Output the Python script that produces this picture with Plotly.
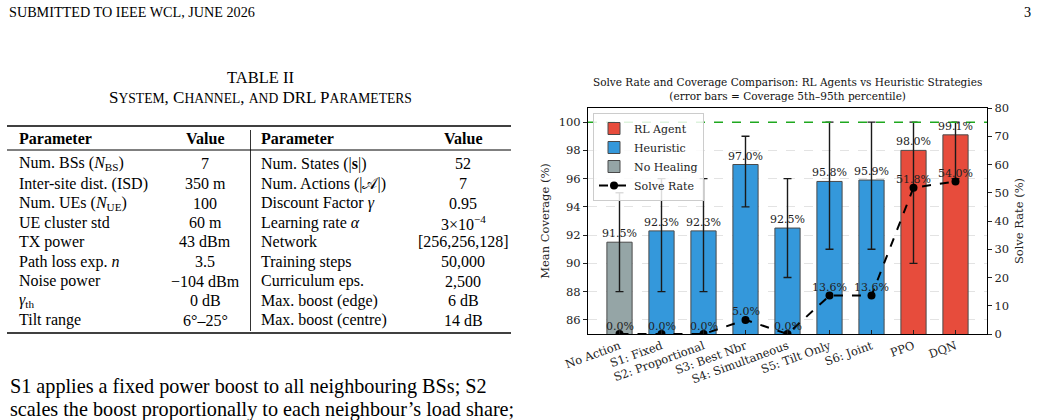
import plotly.graph_objects as go

W, H = 1041, 420

# ---------------- data ----------------
categories = ["No Action", "S1: Fixed", "S2: Proportional", "S3: Best Nbr",
              "S4: Simultaneous", "S5: Tilt Only", "S6: Joint", "PPO", "DQN"]
groups = ["No Healing", "Heuristic", "Heuristic", "Heuristic", "Heuristic",
          "Heuristic", "Heuristic", "RL Agent", "RL Agent"]
mean_coverage = [91.5, 92.3, 92.3, 97.0, 92.5, 95.8, 95.9, 98.0, 99.1]
coverage_p5 = [88.0, 88.0, 88.0, 94.0, 89.0, 91.0, 91.0, 90.0, 96.0]
coverage_p95 = [95.0, 96.0, 96.0, 99.0, 96.0, 100.0, 100.0, 100.0, 100.0]
solve_rate = [0.0, 0.0, 0.0, 5.0, 0.0, 13.6, 13.6, 51.8, 54.0]
target_coverage = 100.0
cov_ticks = [86, 88, 90, 92, 94, 96, 98, 100]
solve_ticks = [0, 10, 20, 30, 40, 50, 60, 70, 80]

group_order = ["RL Agent", "Heuristic", "No Healing"]
group_colors = {"RL Agent": "#e74c3c", "Heuristic": "#3498db", "No Healing": "#95a5a6"}

table_left_params = ["Num. BSs (<i>N</i><sub>BS</sub>)", "Inter-site dist. (ISD)",
                     "Num. UEs (<i>N</i><sub>UE</sub>)", "UE cluster std", "TX power",
                     "Path loss exp. <i>n</i>", "Noise power", "<i>γ</i><sub>th</sub>", "Tilt range"]
table_left_values = ["7", "350 m", "100", "60 m", "43 dBm", "3.5", "−104 dBm", "0 dB", "6°–25°"]
table_right_params = ["Num. States (|<b>s</b>|)", "Num. Actions (|𝒜|)", "Discount Factor <i>γ</i>",
                      "Learning rate <i>α</i>", "Network", "Training steps", "Curriculum eps.",
                      "Max. boost (edge)", "Max. boost (centre)"]
table_right_values = ["52", "7", "0.95", "3×10<sup>−4</sup>", "[256,256,128]", "50,000",
                      "2,500", "6 dB", "14 dB"]

# ---------------- helpers ----------------
def px(x):
    return x / W

def py(y):
    return 1 - y / H

SERIF_PAGE = "Liberation Serif"
SERIF_PLOT = "DejaVu Serif"

fig = go.Figure()

xs = list(range(len(categories)))

for g in group_order:
    idx = [i for i in xs if groups[i] == g]
    fig.add_trace(go.Bar(
        x=[xs[i] for i in idx],
        y=[mean_coverage[i] for i in idx],
        width=0.6,
        name=g,
        marker=dict(color=group_colors[g], line=dict(color="#4a4a4a", width=1)),
        error_y=dict(type="data", symmetric=False,
                     array=[coverage_p95[i] - mean_coverage[i] for i in idx],
                     arrayminus=[mean_coverage[i] - coverage_p5[i] for i in idx],
                     color="#1a1a1a", thickness=1.4, width=4),
        xaxis="x", yaxis="y",
    ))

fig.add_trace(go.Scatter(
    x=xs, y=solve_rate, name="Solve Rate", mode="lines+markers",
    line=dict(color="black", width=2, dash="dash"),
    marker=dict(color="black", size=8),
    xaxis="x", yaxis="y2",
))

annotations = []
for i in xs:
    annotations.append(dict(x=i, y=mean_coverage[i], xref="x", yref="y",
                            text=f"{mean_coverage[i]:.1f}%", showarrow=False,
                            xanchor="center", yanchor="bottom",
                            font=dict(family=SERIF_PLOT, size=11, color="#222")))
    annotations.append(dict(x=i, y=solve_rate[i], xref="x", yref="y2",
                            text=f"{solve_rate[i]:.1f}%", showarrow=False,
                            xanchor="center", yanchor="middle", yshift=8,
                            font=dict(family=SERIF_PLOT, size=11, color="#222")))

# chart title
annotations.append(dict(x=px(787.5), y=py(88.5), xref="paper", yref="paper",
                        text="Solve Rate and Coverage Comparison: RL Agents vs Heuristic Strategies<br>"
                             "(error bars = Coverage 5th–95th percentile)",
                        showarrow=False, xanchor="center", yanchor="middle", align="center",
                        font=dict(family=SERIF_PLOT, size=10.5, color="#111")))

# ---------------- page texts ----------------
def page_text(x, y, text, size, anchor="left", family=SERIF_PAGE):
    annotations.append(dict(x=px(x), y=py(y), xref="paper", yref="paper", text=text,
                            showarrow=False, xanchor=anchor, yanchor="middle",
                            font=dict(family=family, size=size, color="black")))

page_text(7, 12, "SUBMITTED TO IEEE WCL, JUNE 2026", 14.2)
page_text(1033, 12, "3", 14.2, anchor="right")

page_text(260, 77, "TABLE II", 16.5, anchor="center")
sc = lambda s: f"<span style='font-size:13.6px'>{s}</span>"
page_text(260, 97, "S" + sc("YSTEM") + ", C" + sc("HANNEL") + ", " + sc("AND") + " DRL P" + sc("ARAMETERS"),
          17, anchor="center")

header_y = 139
page_text(17, header_y, "<b>Parameter</b>", 16)
page_text(205, header_y, "<b>Value</b>", 16, anchor="center")
page_text(259, header_y, "<b>Parameter</b>", 16)
page_text(463, header_y, "<b>Value</b>", 16, anchor="center")

row0, row_step = 164, 19.5
for r in range(len(table_left_params)):
    yy = row0 + r * row_step
    page_text(17, yy, table_left_params[r], 16)
    page_text(205, yy, table_left_values[r], 16, anchor="center")
    page_text(259, yy, table_right_params[r], 16)
    page_text(463, yy, table_right_values[r], 16, anchor="center")

page_text(8, 386, "S1 applies a fixed power boost to all neighbouring BSs; S2", 20.2)
page_text(8, 409, "scales the boost proportionally to each neighbour’s load share;", 20.2)

shapes = [
    dict(type="line", xref="paper", yref="paper", x0=px(7), x1=px(511), y0=py(126), y1=py(126),
         line=dict(color="black", width=1.6)),
    dict(type="line", xref="paper", yref="paper", x0=px(7), x1=px(511), y0=py(150), y1=py(150),
         line=dict(color="black", width=1)),
    dict(type="line", xref="paper", yref="paper", x0=px(7), x1=px(511), y0=py(333), y1=py(333),
         line=dict(color="black", width=1.6)),
    dict(type="line", xref="paper", yref="paper", x0=px(250.5), x1=px(250.5), y0=py(130), y1=py(331),
         line=dict(color="black", width=0.8)),
    dict(type="line", xref="x domain", yref="y", x0=0, x1=1, y0=target_coverage, y1=target_coverage,
         line=dict(color="#1fa81f", width=1.5, dash="dash"), layer="above"),
]

axis_font = dict(family=SERIF_PLOT, size=11.5, color="#222")

fig.update_layout(
    template="none",
    width=W, height=H,
    margin=dict(l=0, r=0, t=0, b=0, pad=0, autoexpand=False),
    paper_bgcolor="white", plot_bgcolor="white",
    barmode="overlay",
    xaxis=dict(domain=[px(588), px(987)], range=[-0.75, len(categories) - 0.25],
               automargin=False,
               tickmode="array", tickvals=xs, ticktext=categories, tickangle=-20,
               ticks="inside", ticklen=4, tickcolor="#222",
               showline=True, mirror=True, linecolor="black", linewidth=1.2,
               showgrid=False, zeroline=False, tickfont=axis_font),
    yaxis=dict(domain=[py(334), py(108)], range=[85, 101],
               automargin=False,
               tickmode="array", tickvals=cov_ticks,
               ticks="outside", ticklen=4, tickcolor="#222",
               showline=True, linecolor="black", linewidth=1.2,
               showgrid=True, gridcolor="#e3e3e3", griddash="dash", gridwidth=0.8,
               zeroline=False, tickfont=axis_font,
               title=dict(text="Mean Coverage (%)", font=dict(family=SERIF_PLOT, size=11.5, color="#222"),
                          standoff=6)),
    yaxis2=dict(overlaying="y", side="right", range=[0, 80], anchor="x",
                automargin=False,
                tickmode="array", tickvals=solve_ticks,
                ticks="outside", ticklen=4, tickcolor="#222",
                showline=True, linecolor="black", linewidth=1.2,
                showgrid=False, zeroline=False, tickfont=axis_font,
                title=dict(text="Solve Rate (%)", font=dict(family=SERIF_PLOT, size=11.5, color="#222"),
                           standoff=6)),
    legend=dict(x=px(593), y=py(113), xanchor="left", yanchor="top",
                bgcolor="rgba(255,255,255,0.85)", bordercolor="#cccccc", borderwidth=1,
                font=dict(family=SERIF_PLOT, size=11, color="#222"),
                traceorder="normal", itemwidth=30, tracegroupgap=0),
    annotations=annotations,
    shapes=shapes,
    showlegend=True,
)

fig.write_html("out.html")
